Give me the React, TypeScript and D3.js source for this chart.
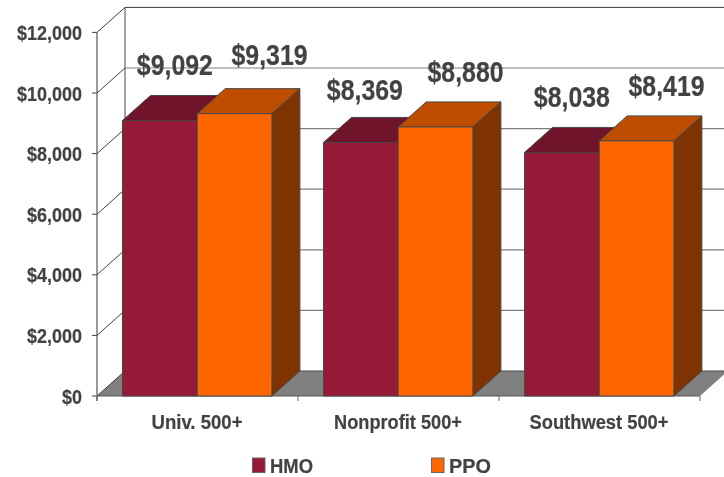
import React from "react";
import * as d3 from "d3";

const categories = ["Univ. 500+", "Nonprofit 500+", "Southwest 500+"];
const hmoValues = [9092, 8369, 8038];
const ppoValues = [9319, 8880, 8419];
const yTicks = [0, 2000, 4000, 6000, 8000, 10000, 12000];
const seriesNames = ["HMO", "PPO"];

const FONT = "'Liberation Sans', Arial, sans-serif";
const TEXT = "#424242";
const DX = 28;
const DY = 25;
const x = d3.scaleBand<string>().domain(categories).range([97, 700]);
const y = d3.scaleLinear().domain([0, 12000]).range([396, 32.4]);
const fmt = (v: number) => "$" + d3.format(",")(v);
const colors = [
  { front: "#961A38", top: "#6F142A", side: "#6F142A" },
  { front: "#FF6600", top: "#BF4D00", side: "#7F3300" },
];
const labelNudge = [
  [[15, -46], [35, -49]],
  [[4, -42], [30, -45]],
  [[10, -45], [30, -45]],
];

function Bar3D({ x0, w, v, c }: { x0: number; w: number; v: number; c: typeof colors[0] }) {
  const top = y(v);
  const base = y(0);
  const s = "#474747";
  return (
    <g stroke={s} strokeWidth={1} strokeLinejoin="round">
      <polygon points={`${x0},${top} ${x0 + DX},${top - DY} ${x0 + w + DX},${top - DY} ${x0 + w},${top}`} fill={c.top} />
      <polygon points={`${x0 + w},${top} ${x0 + w + DX},${top - DY} ${x0 + w + DX},${base - DY} ${x0 + w},${base}`} fill={c.side} />
      <rect x={x0} y={top} width={w} height={base - top} fill={c.front} />
    </g>
  );
}

export default function App() {
  const base = y(0);
  const bw = x.bandwidth();
  const barW = 74.7;
  const pad = 25.5;
  return (
    <svg width={724} height={477} style={{ position: "fixed", left: 0, top: 0, background: "#fff" }} fontFamily={FONT} fontWeight="bold">
      <defs>
        <filter id="soft" x="-5%" y="-5%" width="110%" height="110%">
          <feGaussianBlur stdDeviation="0.3" />
        </filter>
      </defs>
      <polygon points={`97,${base} ${97 + DX},${base - DY} 728,${base - DY} 700,${base}`} fill="#808080" />
      {yTicks.slice(1).map((t) => (
        <line key={t} x1={97 + DX} x2={724} y1={y(t) - DY} y2={y(t) - DY} stroke={t === 12000 ? "#3c3c3c" : "#808080"} strokeWidth={t === 12000 ? 1 : 1.2} />
      ))}
      <line x1={97 + DX} x2={724} y1={base - DY} y2={base - DY} stroke="#4a4a4a" strokeWidth={1.2} />
      <line x1={97 + DX} x2={97 + DX} y1={y(12000) - DY} y2={base - DY} stroke="#666" strokeWidth={1.2} />
      {yTicks.map((t) => (
        <g key={t} stroke="#404040" strokeWidth={1}>
          <line x1={97} x2={97 + DX} y1={y(t)} y2={y(t) - DY} />
          <line x1={92} x2={97} y1={y(t)} y2={y(t)} />
        </g>
      ))}
      <line x1={97} x2={97} y1={y(12000)} y2={base + 5} stroke="#555" strokeWidth={1.2} />
      <line x1={97} x2={700} y1={base} y2={base} stroke="#555" strokeWidth={1.2} />
      {[...categories.map((c) => x(c)!), 700].map((p) => (
        <line key={p} x1={p} x2={p} y1={base} y2={base + 5} stroke="#666" strokeWidth={1} />
      ))}
      {categories.map((c, i) => {
        const x0 = x(c)! + pad;
        return (
          <g key={c}>
            <Bar3D x0={x0} w={barW} v={hmoValues[i]} c={colors[0]} />
            <Bar3D x0={x0 + barW} w={barW} v={ppoValues[i]} c={colors[1]} />
          </g>
        );
      })}
      <g filter="url(#soft)" fill={TEXT} stroke={TEXT} strokeWidth={0.2}>
        {yTicks.map((t) => {
          const s = fmt(t);
          return (
            <text key={t} x={82} y={y(t) + 7.5} textAnchor="end" fontSize={21} textLength={s.length === 7 ? 65 : s.length === 6 ? 55 : 20} lengthAdjust="spacingAndGlyphs">{s}</text>
          );
        })}
        {categories.map((c, i) => {
          const cx = x(c)! + bw / 2 - 0.5;
          const w = [91, 128, 139][i];
          return (
            <text key={c} x={cx} y={429} textAnchor="middle" fontSize={20} textLength={w} lengthAdjust="spacingAndGlyphs">{c}</text>
          );
        })}
        {categories.map((c, i) => [hmoValues[i], ppoValues[i]].map((v, j) => {
          const cx = x(c)! + pad + barW * j + barW / 2 + labelNudge[i][j][0];
          return (
            <text key={c + j} x={cx} y={y(v) + labelNudge[i][j][1]} textAnchor="middle" fontSize={30} textLength={76} lengthAdjust="spacingAndGlyphs">{fmt(v)}</text>
          );
        }))}
        {seriesNames.map((n, i) => (
          <text key={n} x={i === 0 ? 270 : 449} y={472.5} fontSize={20.5} textLength={i === 0 ? 43 : 42} lengthAdjust="spacingAndGlyphs">{n}</text>
        ))}
      </g>
      {seriesNames.map((n, i) => (
        <rect key={n} x={i === 0 ? 252.5 : 431.5} y={458} width={12.5} height={14.5} fill={colors[i].front} stroke="#666" strokeWidth={1} />
      ))}
    </svg>
  );
}
